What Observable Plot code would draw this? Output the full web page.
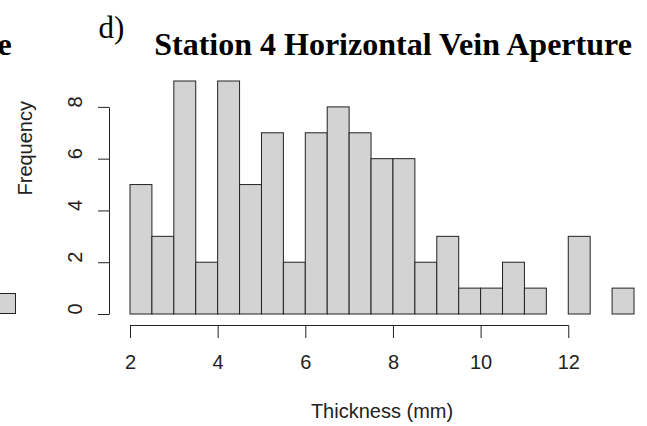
<!DOCTYPE html>
<html>
<head>
<meta charset="utf-8">
<script src="https://cdn.jsdelivr.net/npm/d3@7"></script>
<script src="https://cdn.jsdelivr.net/npm/@observablehq/plot@0.6"></script>
<style>
  html, body { margin: 0; padding: 0; background: #fff; }
  #wrap { position: relative; width: 647px; height: 426px; overflow: hidden; }
  #frag { position: absolute; left: -2px; top: 293px; width: 18px; height: 21px;
          background: #d3d3d3; border: 1px solid #222; box-sizing: border-box; }
</style>
</head>
<body>
<div id="wrap"><div id="frag"></div></div>
<script>
// Histogram bin edges (mm) and counts
const breaks = [2, 2.5, 3, 3.5, 4, 4.5, 5, 5.5, 6, 6.5, 7, 7.5, 8, 8.5, 9, 9.5, 10, 10.5, 11, 11.5, 12, 12.5, 13, 13.5];
const counts = [5, 3, 9, 2, 9, 5, 7, 2, 7, 8, 7, 6, 6, 2, 3, 1, 1, 2, 1, 0, 3, 0, 1];
const xTicks = [2, 4, 6, 8, 10, 12];
const yTicks = [0, 2, 4, 6, 8];
const title = "Station 4 Horizontal Vein Aperture";
const panelLabel = "d)";
const xLabel = "Thickness (mm)";
const yLabel = "Frequency";
const neighbourTitleTail = "e";

const bins = counts.map((c, i) => ({x1: breaks[i], x2: breaks[i + 1], count: c}));
const yAxisLine = [{x: breaks[0], y1: yTicks[0], y2: yTicks[yTicks.length - 1]}];

const sans = "'Liberation Sans', Arial, sans-serif";
const serif = "'Liberation Serif', 'Times New Roman', serif";
const ink = "#222";

const chart = Plot.plot({
  width: 647,
  height: 426,
  marginLeft: 109,
  marginRight: 13,
  marginTop: 81,
  marginBottom: 101,
  insetLeft: 21,
  insetBottom: 11,
  style: {fontFamily: sans, fontSize: "20px", background: "transparent", overflow: "visible"},
  x: {domain: [breaks[0], breaks[breaks.length - 1]], axis: null},
  y: {domain: [0, 9], axis: null},
  marks: [
    Plot.rectY(bins, {x1: "x1", x2: "x2", y: "count", fill: "#d3d3d3", stroke: ink, strokeWidth: 1}),
    // x axis
    Plot.ruleY([0], {x1: xTicks[0], x2: xTicks[xTicks.length - 1], dy: 11, stroke: ink}),
    Plot.axisX({ticks: xTicks, tickSize: 13, tickFormat: () => "", stroke: ink, label: null}),
    Plot.text(xTicks, {x: d => d, text: d => String(d), frameAnchor: "bottom", lineAnchor: "middle", dy: 37, fontSize: 20, fill: ink}),
    // y axis
    Plot.link(yAxisLine, {x1: "x", x2: "x", y1: "y1", y2: "y2", dx: -21, stroke: ink, strokeWidth: 1}),
    Plot.axisY({ticks: yTicks, tickSize: 11, tickFormat: () => "", stroke: ink, label: null}),
    Plot.text(yTicks, {y: d => d, text: d => String(d), frameAnchor: "left", lineAnchor: "middle", dx: -34, rotate: -90, fontSize: 20, fill: ink}),
    // axis titles
    Plot.text([xLabel], {frameAnchor: "bottom", lineAnchor: "middle", dx: 10, dy: 86, fontSize: 20, fill: ink}),
    Plot.text([yLabel], {frameAnchor: "left", lineAnchor: "middle", dx: -84, dy: -8, rotate: -90, fontSize: 20, fill: ink}),
    // titles
    Plot.text([title], {frameAnchor: "top", lineAnchor: "middle", dx: 21, dy: -37, fontFamily: serif, fontWeight: "bold", fontSize: 32, fill: "#000"}),
    Plot.text([panelLabel], {frameAnchor: "top-left", lineAnchor: "middle", dx: -11, dy: -53, fontFamily: serif, fontSize: 31, fill: "#000"}),
    Plot.text([neighbourTitleTail], {frameAnchor: "top-left", lineAnchor: "middle", dx: -112, dy: -37, fontFamily: serif, fontWeight: "bold", fontSize: 32, fill: "#000"})
  ]
});
chart.style.position = "absolute";
chart.style.left = "0px";
chart.style.top = "0px";
document.getElementById("wrap").appendChild(chart);
</script>
</body>
</html>
